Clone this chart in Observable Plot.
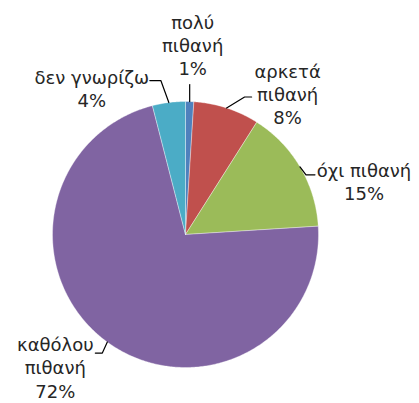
<!DOCTYPE html>
<html>
<head>
<meta charset="utf-8">
<script src="https://cdn.jsdelivr.net/npm/d3@7"></script>
<script src="https://cdn.jsdelivr.net/npm/@observablehq/plot@0.6"></script>
<style>
  html, body { margin: 0; padding: 0; background: #fff; }
  #chart { width: 419px; height: 403px; }
</style>
</head>
<body>
<div id="chart"></div>
<script>
// ---- data ----
const categories = ["πολύ πιθανή", "αρκετά πιθανή", "όχι πιθανή", "καθόλου πιθανή", "δεν γνωρίζω"];
const percents = [1, 8, 15, 72, 4];
const labelTexts = ["πολύ\nπιθανή\n1%", "αρκετά\nπιθανή\n8%", "όχι πιθανή\n15%", "καθόλου\nπιθανή\n72%", "δεν γνωρίζω\n4%"];
const sliceColors = ["#4F81BD", "#C0504D", "#9BBB59", "#8064A2", "#4BACC6"];

// ---- layout (pixels) ----
const W = 419, H = 403;
const cx = 185, cy = 234, R = 133;
// leader line: elbow & end offsets from the slice-edge point; text offset from leader end
const layout = [
  {elbow: [0, -17], end: [0, -17], text: [3, -40]},
  {elbow: [18, -11], end: [25, -11], text: [36, -3]},
  {elbow: [6, 8], end: [15, 8], text: [49, 6]},
  {elbow: [-5, 11], end: [-12, 11], text: [-40, 14]},
  {elbow: [-8, -22], end: [-19, -22], text: [-58, 8]}
];

const arcs = d3.pie().sort(null).value(d => d)(percents);

// slice polygons in data units (radius = 1), angle 0 at top, clockwise
const slicePts = [];
arcs.forEach((a, i) => {
  const n = Math.max(2, Math.ceil((a.endAngle - a.startAngle) / 0.01));
  slicePts.push({k: categories[i], x: 0, y: 0});
  for (let j = 0; j <= n; j++) {
    const t = a.startAngle + (a.endAngle - a.startAngle) * j / n;
    slicePts.push({k: categories[i], x: Math.sin(t), y: Math.cos(t)});
  }
  slicePts.push({k: categories[i], x: 0, y: 0});
});

const leaderPts = [];
const labels = [];
arcs.forEach((a, i) => {
  const m = (a.startAngle + a.endAngle) / 2;
  const sx = Math.sin(m), sy = Math.cos(m);
  const L = layout[i];
  const e = [sx + L.elbow[0] / R, sy - L.elbow[1] / R];
  const f = [sx + L.end[0] / R, sy - L.end[1] / R];
  leaderPts.push({k: categories[i], x: sx, y: sy}, {k: categories[i], x: e[0], y: e[1]}, {k: categories[i], x: f[0], y: f[1]});
  labels.push({k: categories[i], x: f[0], y: f[1], text: labelTexts[i], dx: L.text[0], dy: L.text[1]});
});

const chart = Plot.plot({
  width: W,
  height: H,
  margin: 0,
  style: {background: "#fff", fontFamily: "'DejaVu Sans', sans-serif"},
  x: {domain: [-cx / R, (W - cx) / R], axis: null},
  y: {domain: [-(H - cy) / R, cy / R], axis: null},
  color: {domain: categories, range: sliceColors},
  marks: [
    Plot.line(slicePts, {x: "x", y: "y", z: "k", fill: "k", stroke: "#ffffff", strokeWidth: 0.6, strokeOpacity: 0.6, curve: "linear"}),
    Plot.line(leaderPts, {x: "x", y: "y", z: "k", stroke: "#000", strokeWidth: 1.2, curve: "linear"}),
    ...labels.map(l => Plot.text([l], {x: "x", y: "y", text: "text", dx: l.dx, dy: l.dy, fontSize: 18, lineHeight: 1.28, fill: "#262626", textAnchor: "middle"}))
  ]
});
document.getElementById("chart").appendChild(chart);
</script>
</body>
</html>
